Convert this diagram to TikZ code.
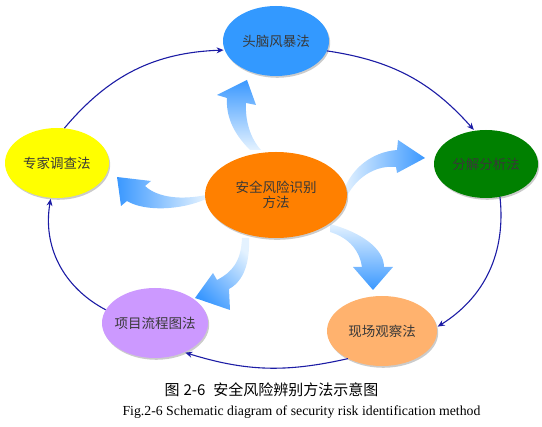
\documentclass[tikz,border=0pt]{standalone}
\usepackage{fontspec}
\setmainfont{Liberation Serif}
\newfontfamily\cjk{Noto Sans CJK SC}
\usepackage{tikz}
\usetikzlibrary{
  shapes.geometric,      % ellipse nodes
  shadows,               % soft shadow under the ellipses
  arrows.meta            % tips of the loop arrows
}

\definecolor{loopnavy}{RGB}{28,28,165}
\definecolor{brainblue}{RGB}{51,153,255}
\definecolor{coreorange}{RGB}{255,128,0}
\definecolor{expertyellow}{RGB}{255,255,0}
\definecolor{splitgreen}{RGB}{0,128,0}
\definecolor{flowlilac}{RGB}{204,153,255}
\definecolor{sitepeach}{RGB}{255,178,110}
\definecolor{fatpale}{RGB}{228,242,255}
\definecolor{fatblue}{RGB}{58,152,255}

\tikzset{
  method/.style={ellipse, inner xsep=-6pt, inner ysep=0pt, text=black!78,
    font=\cjk\fontsize{13.5}{15}\selectfont, align=center,
    drop shadow={shadow xshift=1.2pt, shadow yshift=-1.8pt, fill=black!45, opacity=0.45}},
  loopline/.style={draw=loopnavy, line width=1.1pt, -{Stealth[length=7pt,width=6pt]}, shorten >=1pt},
  fatarrow/.style={top color=fatblue, bottom color=fatpale, draw=none}
}

\begin{document}
\begin{tikzpicture}[x=1pt, y=1pt]
  \useasboundingbox (0,0) rectangle (542,-427);

  % fat arrows out of the centre
  \shade[fatarrow, shading angle=0] (250,-150) .. controls (232,-132) and (226,-115) .. (227,-98)
    -- (217,-95) -- (247,-80) -- (256,-105) -- (246,-103)
    .. controls (245,-120) and (250,-138) .. (261,-150) -- cycle;
  \shade[fatarrow, shading angle=90] (206,-195) .. controls (182,-200) and (158,-198) .. (145,-186)
    -- (151,-181) -- (117,-177) -- (121,-206) -- (127,-201)
    .. controls (145,-212) and (182,-210) .. (206,-199) -- cycle;
  \shade[fatarrow, shading angle=-90] (344,-190) .. controls (352,-168) and (372,-152) .. (397,-150)
    -- (398,-140) -- (425,-158) -- (397,-173) -- (396,-167)
    .. controls (378,-165) and (358,-175) .. (347,-196) -- cycle;
  \shade[fatarrow, shading angle=135] (242,-238) .. controls (241,-262) and (232,-272) .. (217,-280)
    -- (213,-273) -- (195,-298) -- (230,-310) -- (229,-289)
    .. controls (244,-281) and (250,-262) .. (249,-238) -- cycle;
  \shade[fatarrow, shading angle=180] (330,-224) .. controls (360,-232) and (384,-248) .. (384,-267)
    -- (393,-267) -- (373,-290) -- (353,-267) -- (362,-267)
    .. controls (360,-252) and (350,-238) .. (330,-232) -- cycle;

  % methods
  \node[method, fill=coreorange, minimum width=142pt, minimum height=86pt] (core) at (276,-195) {安全风险识别\\方法};
  \node[method, fill=brainblue, minimum width=106pt, minimum height=70pt] (brain) at (276,-41) {头脑风暴法};
  \node[method, fill=splitgreen, minimum width=104pt, minimum height=68pt] (split) at (486,-164) {分解分析法};
  \node[method, fill=sitepeach, minimum width=110pt, minimum height=70pt] (site) at (382,-331) {现场观察法};
  \node[method, fill=flowlilac, minimum width=106pt, minimum height=70pt] (flow) at (155,-323) {项目流程图法};
  \node[method, fill=expertyellow, minimum width=104pt, minimum height=70pt] (expert) at (57,-163) {专家调查法};

  % loop round the methods
  \draw[loopline] (brain.-11) to[bend left=20] (split.109);
  \draw[loopline] (split.-67) to[bend left=32] (site.4);
  \draw[loopline] (site.-141) to[bend left=15] (flow.-45);
  \draw[loopline] (flow.165) to[bend left=36] (expert.-100);
  \draw[loopline] (expert.78) to[bend left=24] (brain.190);

  % caption
  \node[anchor=west, font=\cjk\fontsize{15}{18}\selectfont] (capzh) at (161,-390) {图\hspace{4pt}2-6\hspace{8pt}安全风险辨别方法示意图};
  \node[anchor=west, font=\fontsize{13.8}{16}\selectfont] (capen) at (119,-412) {Fig.2-6 Schematic diagram of security risk identification method};
\end{tikzpicture}
\end{document}
